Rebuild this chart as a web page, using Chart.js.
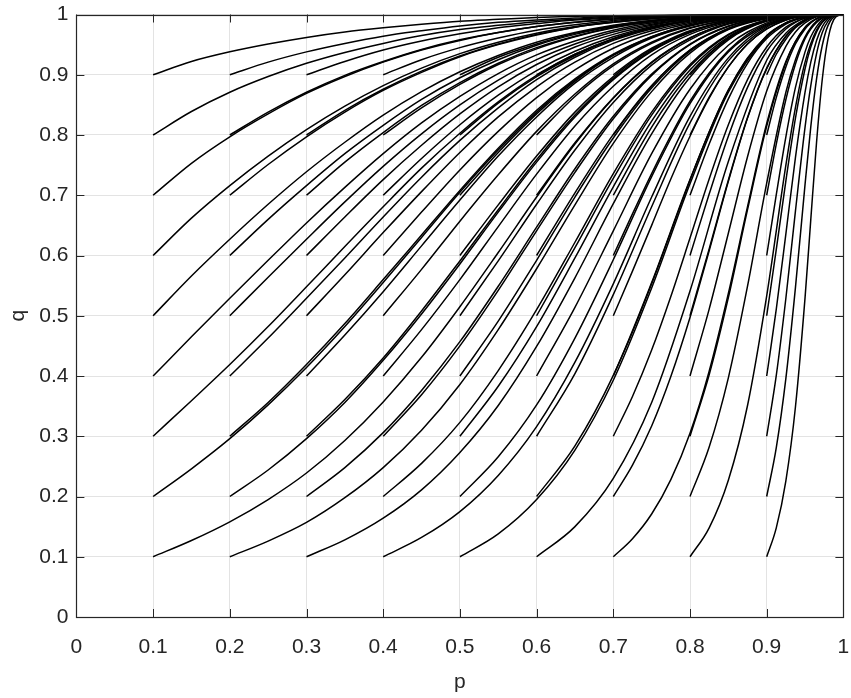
<!DOCTYPE html>
<html>
<head>
<meta charset="utf-8">
<script src="https://cdn.jsdelivr.net/npm/chart.js@4.4.0/dist/chart.umd.min.js"></script>
<style>
  html, body { margin: 0; padding: 0; background: #fff; }
  #wrap { width: 851px; height: 698px; }
</style>
</head>
<body>
<div id="wrap"><canvas id="pq" width="851" height="698"></canvas></div>
<script>
// ticks
const xTickValues = [0, 0.1, 0.2, 0.3, 0.4, 0.5, 0.6, 0.7, 0.8, 0.9, 1];
const xTickLabels = ["0", "0.1", "0.2", "0.3", "0.4", "0.5", "0.6", "0.7", "0.8", "0.9", "1"];
const yTickValues = [0, 0.1, 0.2, 0.3, 0.4, 0.5, 0.6, 0.7, 0.8, 0.9, 1];
const yTickLabels = ["0", "0.1", "0.2", "0.3", "0.4", "0.5", "0.6", "0.7", "0.8", "0.9", "1"];

// curves start at p = 0.1 .. 0.9, q = 0.1 .. 0.9, all ending at (1, 1)
// one p grid per starting p, one row of q per starting q
const gridFrom01 = [0.1, 0.15, 0.2, 0.25, 0.3, 0.35, 0.4, 0.45, 0.5, 0.55, 0.6, 0.65, 0.7, 0.75, 0.8, 0.85, 0.9, 0.95, 1];
const qFrom01 = [
  [0.1, 0.127, 0.158, 0.195, 0.239, 0.293, 0.357, 0.431, 0.515, 0.605, 0.697, 0.785, 0.861, 0.920, 0.961, 0.985, 0.996, 1, 1],
  [0.2, 0.246, 0.296, 0.352, 0.414, 0.482, 0.555, 0.630, 0.705, 0.775, 0.838, 0.891, 0.933, 0.963, 0.982, 0.993, 0.998, 1, 1],
  [0.3, 0.359, 0.419, 0.482, 0.548, 0.615, 0.681, 0.745, 0.803, 0.855, 0.899, 0.934, 0.960, 0.978, 0.990, 0.996, 0.999, 1, 1],
  [0.4, 0.465, 0.529, 0.592, 0.654, 0.713, 0.769, 0.820, 0.864, 0.902, 0.933, 0.956, 0.974, 0.986, 0.993, 0.997, 0.999, 1, 1],
  [0.5, 0.566, 0.627, 0.685, 0.739, 0.788, 0.833, 0.872, 0.905, 0.932, 0.954, 0.970, 0.982, 0.990, 0.996, 0.998, 1, 1, 1],
  [0.6, 0.662, 0.716, 0.765, 0.809, 0.848, 0.882, 0.911, 0.935, 0.954, 0.969, 0.980, 0.988, 0.994, 0.997, 0.999, 1, 1, 1],
  [0.7, 0.753, 0.797, 0.835, 0.869, 0.897, 0.921, 0.941, 0.957, 0.970, 0.980, 0.987, 0.992, 0.996, 0.998, 0.999, 1, 1, 1],
  [0.8, 0.839, 0.871, 0.897, 0.919, 0.937, 0.952, 0.965, 0.975, 0.982, 0.988, 0.992, 0.996, 0.998, 0.999, 1, 1, 1, 1],
  [0.9, 0.922, 0.938, 0.951, 0.962, 0.971, 0.978, 0.984, 0.989, 0.992, 0.995, 0.997, 0.998, 0.999, 0.999, 1, 1, 1, 1]
];

const gridFrom02 = [0.2, 0.25, 0.3, 0.35, 0.4, 0.45, 0.5, 0.55, 0.6, 0.65, 0.7, 0.75, 0.8, 0.85, 0.9, 0.95, 1];
const qFrom02 = [
  [0.1, 0.126, 0.157, 0.198, 0.248, 0.310, 0.386, 0.477, 0.578, 0.684, 0.786, 0.872, 0.936, 0.975, 0.993, 0.999, 1],
  [0.2, 0.244, 0.296, 0.356, 0.426, 0.503, 0.586, 0.672, 0.755, 0.830, 0.892, 0.939, 0.970, 0.989, 0.997, 1, 1],
  [0.3, 0.356, 0.419, 0.487, 0.560, 0.634, 0.708, 0.778, 0.841, 0.893, 0.934, 0.963, 0.983, 0.993, 0.998, 1, 1],
  [0.4, 0.463, 0.529, 0.596, 0.664, 0.730, 0.791, 0.845, 0.892, 0.929, 0.957, 0.976, 0.989, 0.996, 0.999, 1, 1],
  [0.5, 0.564, 0.627, 0.689, 0.748, 0.802, 0.850, 0.891, 0.925, 0.951, 0.971, 0.984, 0.992, 0.997, 0.999, 1, 1],
  [0.6, 0.660, 0.716, 0.769, 0.816, 0.859, 0.895, 0.925, 0.949, 0.967, 0.980, 0.989, 0.995, 0.998, 1, 1, 1],
  [0.7, 0.751, 0.797, 0.838, 0.874, 0.904, 0.930, 0.950, 0.966, 0.979, 0.987, 0.993, 0.997, 0.999, 1, 1, 1],
  [0.8, 0.838, 0.871, 0.899, 0.922, 0.942, 0.958, 0.970, 0.980, 0.987, 0.993, 0.996, 0.998, 0.999, 1, 1, 1],
  [0.9, 0.921, 0.938, 0.952, 0.964, 0.973, 0.981, 0.987, 0.991, 0.994, 0.997, 0.998, 0.999, 1, 1, 1, 1]
];

const gridFrom03 = [0.3, 0.35, 0.4, 0.45, 0.5, 0.55, 0.6, 0.65, 0.7, 0.75, 0.8, 0.85, 0.9, 0.95, 1];
const qFrom03 = [
  [0.1, 0.128, 0.164, 0.211, 0.273, 0.351, 0.449, 0.563, 0.686, 0.802, 0.896, 0.958, 0.989, 0.999, 1],
  [0.2, 0.248, 0.306, 0.376, 0.457, 0.549, 0.647, 0.744, 0.831, 0.901, 0.951, 0.981, 0.995, 1, 1],
  [0.3, 0.361, 0.430, 0.508, 0.591, 0.676, 0.759, 0.833, 0.894, 0.940, 0.971, 0.989, 0.997, 1, 1],
  [0.4, 0.468, 0.540, 0.616, 0.692, 0.765, 0.830, 0.886, 0.929, 0.961, 0.981, 0.993, 0.998, 1, 1],
  [0.5, 0.568, 0.638, 0.706, 0.771, 0.830, 0.880, 0.921, 0.952, 0.973, 0.987, 0.995, 0.999, 1, 1],
  [0.6, 0.664, 0.726, 0.783, 0.835, 0.880, 0.917, 0.946, 0.967, 0.982, 0.992, 0.997, 0.999, 1, 1],
  [0.7, 0.755, 0.804, 0.849, 0.887, 0.919, 0.945, 0.964, 0.979, 0.988, 0.995, 0.998, 1, 1, 1],
  [0.8, 0.841, 0.876, 0.906, 0.931, 0.951, 0.967, 0.979, 0.987, 0.993, 0.997, 0.999, 1, 1, 1],
  [0.9, 0.922, 0.941, 0.956, 0.968, 0.978, 0.985, 0.991, 0.994, 0.997, 0.999, 0.999, 1, 1, 1]
];

const gridFrom04 = [0.4, 0.45, 0.5, 0.55, 0.6, 0.65, 0.7, 0.75, 0.8, 0.85, 0.9, 0.95, 1];
const qFrom04 = [
  [0.1, 0.132, 0.175, 0.235, 0.316, 0.423, 0.553, 0.697, 0.831, 0.928, 0.981, 0.998, 1],
  [0.2, 0.255, 0.323, 0.409, 0.510, 0.622, 0.736, 0.838, 0.917, 0.967, 0.991, 0.999, 1],
  [0.3, 0.369, 0.450, 0.542, 0.641, 0.738, 0.827, 0.899, 0.950, 0.980, 0.995, 1, 1],
  [0.4, 0.477, 0.560, 0.648, 0.735, 0.815, 0.881, 0.933, 0.967, 0.987, 0.997, 1, 1],
  [0.5, 0.577, 0.657, 0.734, 0.806, 0.868, 0.918, 0.954, 0.978, 0.991, 0.998, 1, 1],
  [0.6, 0.672, 0.742, 0.806, 0.862, 0.908, 0.944, 0.969, 0.985, 0.994, 0.999, 1, 1],
  [0.7, 0.761, 0.817, 0.866, 0.907, 0.939, 0.963, 0.980, 0.990, 0.996, 0.999, 1, 1],
  [0.8, 0.845, 0.884, 0.917, 0.943, 0.963, 0.978, 0.988, 0.994, 0.998, 0.999, 1, 1],
  [0.9, 0.925, 0.945, 0.961, 0.974, 0.983, 0.990, 0.995, 0.998, 0.999, 1, 1, 1]
];

const gridFrom05 = [0.5, 0.55, 0.6, 0.65, 0.7, 0.75, 0.8, 0.85, 0.9, 0.925, 0.95, 0.965, 1];
const qFrom05 = [
  [0.1, 0.138, 0.195, 0.277, 0.393, 0.546, 0.719, 0.871, 0.963, 0.986, 0.996, 0.999, 1],
  [0.2, 0.266, 0.352, 0.463, 0.593, 0.731, 0.852, 0.938, 0.983, 0.994, 0.998, 0.999, 1],
  [0.3, 0.383, 0.482, 0.596, 0.714, 0.823, 0.908, 0.963, 0.990, 0.996, 0.999, 1, 1],
  [0.4, 0.491, 0.592, 0.697, 0.795, 0.878, 0.939, 0.976, 0.994, 0.998, 0.999, 1, 1],
  [0.5, 0.591, 0.685, 0.775, 0.854, 0.916, 0.958, 0.984, 0.996, 0.998, 1, 1, 1],
  [0.6, 0.684, 0.765, 0.838, 0.897, 0.942, 0.972, 0.989, 0.997, 0.999, 1, 1, 1],
  [0.7, 0.771, 0.835, 0.889, 0.932, 0.962, 0.982, 0.993, 0.998, 0.999, 1, 1, 1],
  [0.8, 0.853, 0.897, 0.932, 0.959, 0.978, 0.989, 0.996, 0.999, 1, 1, 1, 1],
  [0.9, 0.929, 0.951, 0.969, 0.981, 0.990, 0.995, 0.998, 1, 1, 1, 1, 1]
];

const gridFrom06 = [0.6, 0.65, 0.7, 0.75, 0.8, 0.85, 0.9, 0.925, 0.95, 0.965, 0.98, 1];
const qFrom06 = [
  [0.1, 0.150, 0.230, 0.356, 0.541, 0.756, 0.924, 0.969, 0.992, 0.998, 1, 1],
  [0.2, 0.284, 0.401, 0.555, 0.726, 0.875, 0.965, 0.986, 0.996, 0.999, 1, 1],
  [0.3, 0.404, 0.535, 0.681, 0.820, 0.923, 0.979, 0.992, 0.998, 0.999, 1, 1],
  [0.4, 0.514, 0.641, 0.769, 0.876, 0.949, 0.986, 0.995, 0.999, 1, 1, 1],
  [0.5, 0.613, 0.728, 0.833, 0.914, 0.966, 0.991, 0.997, 0.999, 1, 1, 1],
  [0.6, 0.704, 0.801, 0.882, 0.941, 0.977, 0.994, 0.998, 0.999, 1, 1, 1],
  [0.7, 0.787, 0.862, 0.921, 0.961, 0.985, 0.996, 0.999, 1, 1, 1, 1],
  [0.8, 0.864, 0.915, 0.952, 0.977, 0.991, 0.998, 0.999, 1, 1, 1, 1],
  [0.9, 0.934, 0.960, 0.978, 0.990, 0.996, 0.999, 1, 1, 1, 1, 1]
];

const gridFrom07 = [0.7, 0.725, 0.75, 0.775, 0.8, 0.825, 0.85, 0.875, 0.9, 0.925, 0.95, 0.965, 0.98, 1];
const qFrom07 = [
  [0.1, 0.130, 0.171, 0.228, 0.305, 0.408, 0.537, 0.681, 0.819, 0.922, 0.979, 0.993, 0.999, 1],
  [0.2, 0.252, 0.317, 0.399, 0.497, 0.608, 0.723, 0.828, 0.910, 0.964, 0.990, 0.997, 1, 1],
  [0.3, 0.366, 0.443, 0.532, 0.629, 0.727, 0.817, 0.892, 0.946, 0.979, 0.994, 0.998, 1, 1],
  [0.4, 0.473, 0.553, 0.639, 0.725, 0.805, 0.874, 0.928, 0.964, 0.986, 0.996, 0.999, 1, 1],
  [0.5, 0.574, 0.650, 0.727, 0.798, 0.861, 0.913, 0.951, 0.976, 0.991, 0.998, 0.999, 1, 1],
  [0.6, 0.669, 0.736, 0.799, 0.856, 0.903, 0.940, 0.967, 0.984, 0.994, 0.998, 1, 1, 1],
  [0.7, 0.758, 0.813, 0.861, 0.902, 0.935, 0.961, 0.978, 0.990, 0.996, 0.999, 1, 1, 1],
  [0.8, 0.843, 0.881, 0.914, 0.941, 0.961, 0.977, 0.987, 0.994, 0.998, 0.999, 1, 1, 1],
  [0.9, 0.924, 0.944, 0.960, 0.973, 0.982, 0.990, 0.994, 0.997, 0.999, 1, 1, 1, 1]
];

const gridFrom08 = [0.8, 0.825, 0.85, 0.875, 0.9, 0.925, 0.9375, 0.95, 0.965, 0.98, 0.99, 1];
const qFrom08 = [
  [0.1, 0.148, 0.227, 0.351, 0.533, 0.750, 0.846, 0.921, 0.974, 0.996, 1, 1],
  [0.2, 0.282, 0.397, 0.549, 0.720, 0.871, 0.925, 0.963, 0.989, 0.998, 1, 1],
  [0.3, 0.402, 0.530, 0.676, 0.815, 0.920, 0.955, 0.978, 0.993, 0.999, 1, 1],
  [0.4, 0.511, 0.637, 0.764, 0.873, 0.947, 0.971, 0.986, 0.996, 0.999, 1, 1],
  [0.5, 0.611, 0.725, 0.829, 0.911, 0.964, 0.980, 0.991, 0.997, 1, 1, 1],
  [0.6, 0.702, 0.798, 0.879, 0.939, 0.976, 0.987, 0.994, 0.998, 1, 1, 1],
  [0.7, 0.785, 0.860, 0.919, 0.960, 0.984, 0.991, 0.996, 0.999, 1, 1, 1],
  [0.8, 0.863, 0.913, 0.951, 0.976, 0.991, 0.995, 0.998, 0.999, 1, 1, 1],
  [0.9, 0.934, 0.960, 0.978, 0.989, 0.996, 0.998, 0.999, 1, 1, 1, 1]
];

const gridFrom09 = [0.9, 0.9125, 0.925, 0.9375, 0.95, 0.9575, 0.965, 0.9725, 0.98, 0.99, 1];
const qFrom09 = [
  [0.1, 0.148, 0.226, 0.349, 0.530, 0.660, 0.788, 0.893, 0.960, 0.996, 1],
  [0.2, 0.281, 0.396, 0.547, 0.718, 0.814, 0.893, 0.949, 0.982, 0.998, 1],
  [0.3, 0.401, 0.529, 0.674, 0.813, 0.882, 0.935, 0.970, 0.989, 0.999, 1],
  [0.4, 0.511, 0.636, 0.763, 0.871, 0.921, 0.957, 0.980, 0.993, 0.999, 1],
  [0.5, 0.610, 0.724, 0.828, 0.910, 0.946, 0.971, 0.987, 0.995, 1, 1],
  [0.6, 0.701, 0.797, 0.879, 0.938, 0.963, 0.980, 0.991, 0.997, 1, 1],
  [0.7, 0.785, 0.859, 0.918, 0.960, 0.976, 0.987, 0.994, 0.998, 1, 1],
  [0.8, 0.862, 0.913, 0.951, 0.976, 0.986, 0.993, 0.997, 0.999, 1, 1],
  [0.9, 0.934, 0.959, 0.978, 0.989, 0.994, 0.997, 0.999, 1, 1, 1]
];

const grids = [gridFrom01, gridFrom02, gridFrom03, gridFrom04, gridFrom05, gridFrom06, gridFrom07, gridFrom08, gridFrom09];
const qTables = [qFrom01, qFrom02, qFrom03, qFrom04, qFrom05, qFrom06, qFrom07, qFrom08, qFrom09];

const datasets = [];
grids.forEach(function(grid, g) {
  qTables[g].forEach(function(row) {
    datasets.push({
      data: row.map(function(q, i) { return {x: grid[i], y: q}; }),
      showLine: true,
      borderColor: "#000",
      borderWidth: 1.5,
      pointRadius: 0,
      cubicInterpolationMode: "monotone",
      fill: false
    });
  });
});

// matlab style box with inward ticks on all sides
const boxTicks = {
  id: "boxTicks",
  afterDatasetsDraw(chart) {
    const ctx = chart.ctx, a = chart.chartArea;
    const x = chart.scales.x, y = chart.scales.y;
    const len = 8;
    ctx.save();
    ctx.strokeStyle = "#262626";
    ctx.lineWidth = 1;
    ctx.beginPath();
    xTickValues.forEach(function(v) {
      const px = Math.round(x.getPixelForValue(v)) + 0.5;
      ctx.moveTo(px, a.bottom); ctx.lineTo(px, a.bottom - len);
      ctx.moveTo(px, a.top); ctx.lineTo(px, a.top + len);
    });
    yTickValues.forEach(function(v) {
      const py = Math.round(y.getPixelForValue(v)) + 0.5;
      ctx.moveTo(a.left, py); ctx.lineTo(a.left + len, py);
      ctx.moveTo(a.right, py); ctx.lineTo(a.right - len, py);
    });
    ctx.stroke();
    ctx.lineWidth = 1.2;
    ctx.strokeRect(Math.round(a.left) + 0.5, Math.round(a.top) + 0.5,
      Math.round(a.right) - Math.round(a.left), Math.round(a.bottom) - Math.round(a.top));
    ctx.restore();
  }
};

function noEdgePadding(s) {
  s.paddingLeft = 0; s.paddingRight = 0; s.paddingTop = 0; s.paddingBottom = 0;
}

Chart.defaults.font.family = "'Liberation Sans', Arial, sans-serif";
Chart.defaults.color = "#262626";

new Chart("pq", {
  type: "scatter",
  data: { datasets: datasets },
  options: {
    responsive: false,
    animation: false,
    events: [],
    layout: { padding: { left: 0, right: 7.6, top: 14.5, bottom: 0 } },
    plugins: { legend: { display: false }, tooltip: { enabled: false } },
    scales: {
      x: {
        type: "linear",
        min: 0,
        max: 1,
        afterBuildTicks: function(s) { s.ticks = xTickValues.map(function(v) { return {value: v}; }); },
        afterFit: function(s) { s.height = 81; noEdgePadding(s); },
        ticks: {
          padding: 18,
          font: { size: 21 },
          callback: function(v, i) { return xTickLabels[i]; }
        },
        grid: { color: "#e3e3e3", lineWidth: 1, drawTicks: false },
        border: { display: false },
        title: { display: true, text: "p", font: { size: 21 }, padding: { top: 0, bottom: 3 } }
      },
      y: {
        type: "linear",
        min: 0,
        max: 1,
        afterBuildTicks: function(s) { s.ticks = yTickValues.map(function(v) { return {value: v}; }); },
        afterFit: function(s) { s.width = 76.4; noEdgePadding(s); },
        ticks: {
          padding: 8,
          font: { size: 21 },
          callback: function(v, i) { return yTickLabels[i]; }
        },
        grid: { color: "#e3e3e3", lineWidth: 1, drawTicks: false },
        border: { display: false },
        title: { display: true, text: "q", font: { size: 21 }, padding: { top: 6, bottom: 0 } }
      }
    }
  },
  plugins: [boxTicks]
});
</script>
</body>
</html>
